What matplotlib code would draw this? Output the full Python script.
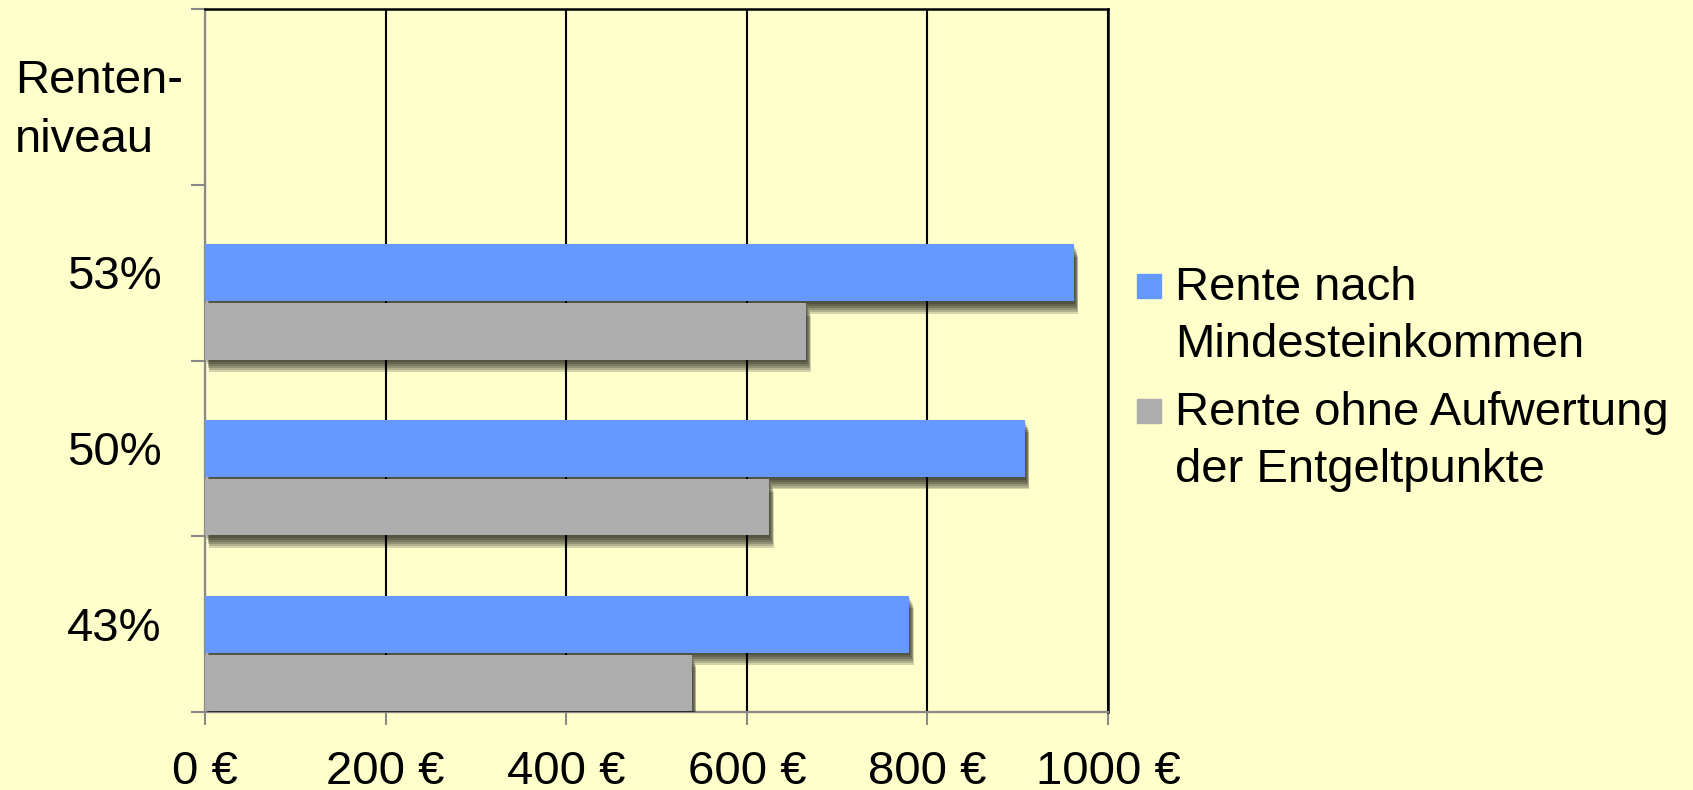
import numpy as np
import matplotlib.pyplot as plt
from matplotlib import patheffects as pe
from matplotlib.patches import Rectangle

plt.rcParams['font.family'] = ['Liberation Sans', 'DejaVu Sans']

# Rentenniveau und die jeweilige Rente in Euro
niveaus = ['43%', '50%', '53%']
kopf = 'Renten-\nniveau'
rente_mindest = [780, 908, 962]
rente_ohne = [539, 625, 666]
serien = ['Rente nach\nMindesteinkommen', 'Rente ohne Aufwertung\nder Entgeltpunkte']
farben = ['#6699FF', '#ADADAD']
x_ticks = [0, 200, 400, 600, 800, 1000]

hg = '#FFFFCC'
grau = '#888888'
fs = 34

fig = plt.figure(figsize=(16.93, 7.9), dpi=100, facecolor=hg)
ax = fig.add_axes([0.1211, 0.0987, 0.5334, 0.8899], facecolor=hg)


def schatten():
    # weicher Schlagschatten aus mehreren versetzten Schichten
    offs = [(0.7, -2.0), (1.4, -3.4), (2.0, -4.8), (2.5, -6.2), (2.9, -7.6), (3.2, -9)]
    return [pe.SimplePatchShadow(offset=o, shadow_rgbFace='black', alpha=0.17)
            for o in offs] + [pe.Normal()]


y = np.arange(len(niveaus))
ax.barh(y, rente_mindest, height=0.325, color=farben[0], zorder=3,
        path_effects=schatten())
ax.barh(y - 0.335, rente_ohne, height=0.32, color=farben[1], zorder=4,
        path_effects=schatten())

ax.set_xlim(0, 1000)
ax.set_ylim(-0.5, len(niveaus) + 0.5)
ax.set_xticks(x_ticks, [f'{v} €' for v in x_ticks])
ax.set_yticks(np.arange(-0.5, len(niveaus) + 1, 1))
ax.set_yticklabels([])
ax.tick_params(axis='x', length=9.4, width=1.5, color=grau, pad=18, labelsize=fs)
ax.tick_params(axis='y', length=10, width=1.5, color=grau)

ax.xaxis.grid(True, color='black', lw=1.5)
ax.set_axisbelow(True)
for s in ['left', 'bottom']:
    ax.spines[s].set_color(grau)
    ax.spines[s].set_linewidth(1.6)
for s in ['top', 'right']:
    ax.spines[s].set_color('black')
    ax.spines[s].set_linewidth(1.8)

# Beschriftung der Kategorien links
for i, lab in enumerate(niveaus):
    ax.text(-0.048, i - 0.094, lab, transform=ax.get_yaxis_transform(),
            ha='right', va='baseline', fontsize=fs)
ax.text(-0.2104, len(niveaus) - 0.316, kopf, transform=ax.get_yaxis_transform(),
        ha='left', va='baseline', fontsize=fs, linespacing=1.45)

# Legende rechts
W, H = 1693, 790
for k, (name, farbe) in enumerate(zip(serien, farben)):
    top = 274 + k * 125
    fig.patches.append(Rectangle((1137 / W, 1 - (top + 24) / H), 24 / W, 24 / H,
                                 transform=fig.transFigure, color=farbe))
    fig.text(1175 / W, 1 - (top + 82.7) / H, name, ha='left', va='baseline',
             fontsize=fs, linespacing=1.36)

fig.savefig('out.png', dpi=100, facecolor=hg)
